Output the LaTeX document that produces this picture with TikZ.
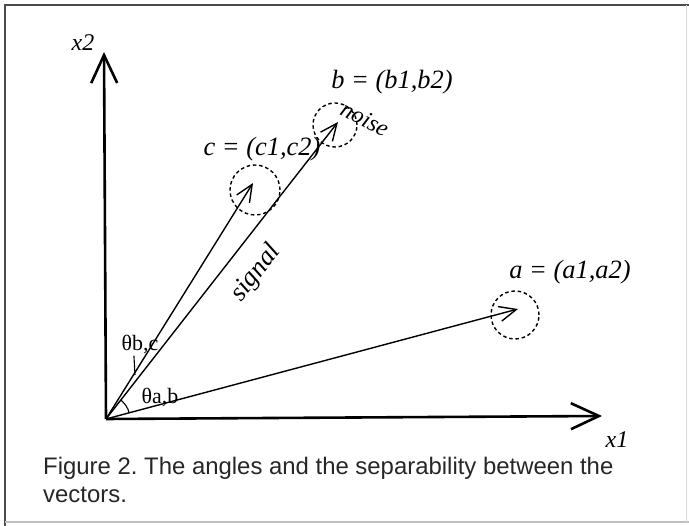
\documentclass[tikz,border=0pt]{standalone}
\usepackage{fontspec}
\setmainfont{Liberation Serif}
\newfontfamily\capfont{Liberation Sans}
\usepackage{tikz}
\usetikzlibrary{arrows.meta}
\frenchspacing
\tikzset{
	axis/.style={line width=2.6bp, -{Straight Barb[length=28bp, width=26bp]}},
	vec/.style={line width=1.4bp, -{Straight Barb[length=17bp, width=15bp]}},
	noisy/.style={draw, circle, line width=1.4bp, dash pattern=on 3.5bp off 2.8bp, minimum size=48bp, inner sep=0pt},
	lbl/.style={font=\fontsize{26.5}{30}\selectfont\itshape, inner sep=1pt},
	ang/.style={font=\fontsize{22}{25}\selectfont, inner sep=1pt},
	capt/.style={font=\fontsize{24}{28}\selectfont\capfont, align=left, inner sep=0pt, text=black!85},
	frameline/.style={line width=1.5bp}
}

\begin{document}
\begin{tikzpicture}[x=1bp, y=1bp]
	\useasboundingbox (0,0) rectangle (689,526);
	\draw[frameline, black!70] (5,0) -- (5,521) -- (689,521);
	\draw[frameline, black!25] (5,4) -- (689,4);
	\draw[line width=1bp, black!15] (686,4) -- (686,521);
	\coordinate (O) at (106,107);
	\coordinate (x2end) at (104,474);
	\coordinate (x1end) at (602,110);
	\coordinate (atip) at (518,217);
	\coordinate (btip) at (338,404);
	\coordinate (ctip) at (253,343);
	\node[noisy] (na) at (515,211) {};
	\node[noisy, minimum size=44bp] (nb) at (335,401) {};
	\node[noisy, minimum size=50bp] (nc) at (255,336) {};
	\draw[axis] (O) -- (x2end);
	\draw[axis] (O) -- (x1end);
	\draw[vec] (O) -- (atip);
	\draw[vec] (O) -- (btip);
	\draw[vec] (O) -- (ctip);
	\node[lbl, font=\fontsize{24}{28}\selectfont\itshape] (x2lab) at (83,483) {x2};
	\node[lbl, font=\fontsize{24}{28}\selectfont\itshape] (x1lab) at (617,86) {x1};
	\node[lbl] (alab) at (570,254) {a = (a1,a2)};
	\node[lbl] (blab) at (392,444) {b = (b1,b2)};
	\node[lbl] (clab) at (262,377) {c = (c1,c2)};
	\node[lbl, rotate=-27, font=\fontsize{24}{28}\selectfont\itshape] (noiselab) at (365,407) {noise};
	\node[lbl, rotate=52] (siglab) at (256,253) {signal};
	\node[ang] (thbc) at (140,181) {θb,c};
	\node[ang] (thab) at (160,128) {θa,b};
	\coordinate (gap) at (135,151);
	\draw[line width=1.1bp] (thbc.-120) -- (gap);
	\draw[line width=1.1bp] ([shift={(14.9:24bp)}]O) arc[start angle=14.9, end angle=52, radius=24bp];
	\node[capt, anchor=north west] (caption) at (43,69) {Figure 2. The angles and the separability between the\\vectors.};
\end{tikzpicture}
\end{document}
